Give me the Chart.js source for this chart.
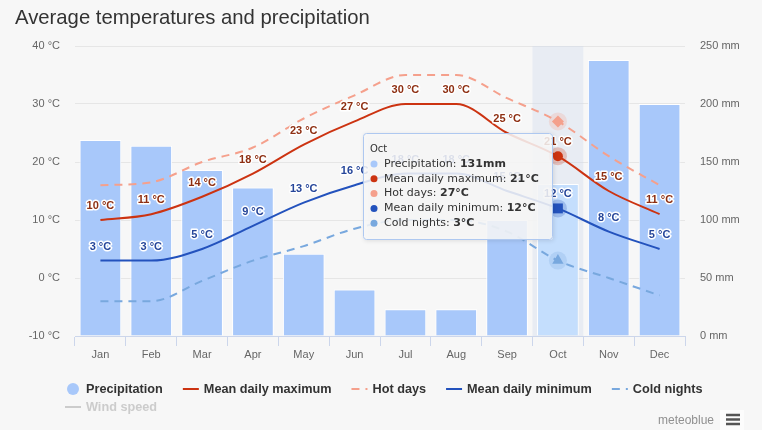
<!DOCTYPE html>
<html><head><meta charset="utf-8">
<script src="https://cdn.jsdelivr.net/npm/chart.js@4.4.1/dist/chart.umd.min.js"></script>
<style>html,body{margin:0;padding:0;background:#f7f7f7;}#wrap{width:762px;height:430px;position:relative;}canvas{display:block;}</style>
</head><body><div id="wrap"><canvas id="c" width="762" height="430"></canvas></div>
<script>
const months = ['Jan','Feb','Mar','Apr','May','Jun','Jul','Aug','Sep','Oct','Nov','Dec'];
const precipitation = [169,164,143,128,71,40,23,23,100,131,238,200];
const meanMax = [10,11,14,18,23,27,30,30,25,21,15,11];
const hotDays = [16,16.5,20,22.5,27.5,31.5,35,35,31,27,21,16];
const meanMin = [3,3,5,9,13,16,18,18,15,12,8,5];
const coldNights = [-4,-4,-0.5,3,5.5,8.5,10,10,8,3,0,-3];
const tempTicks = [-10,0,10,20,30,40];
const precipTicks = [0,50,100,150,200,250];
const hoverIndex = 9;

const C_PRE = '#a8c8fa', C_PRE_H = '#c4defd';
const C_MAX = '#cc3311', C_HOT = '#f5a08c', C_MIN = '#2352bd', C_COLD = '#78a8de';
const L_MAX = '#8e2f12', L_MIN = '#26469a';

const rad = (r)=> (c)=> c.dataIndex===hoverIndex ? r : 0;

const bgPlugin = {
  id:'bg',
  beforeDraw(chart){
    const ctx=chart.ctx; ctx.save(); ctx.fillStyle='#f7f7f7'; ctx.fillRect(0,0,chart.width,chart.height); ctx.restore();
  },
  beforeDatasetsDraw(chart){
    const ctx=chart.ctx, x=chart.scales.x, a=chart.chartArea;
    const w=(a.right-a.left)/months.length;
    const cx=x.getPixelForValue(hoverIndex);
    ctx.save(); ctx.fillStyle='rgba(204,214,235,0.35)';
    ctx.fillRect(cx-w/2,a.top,w,a.bottom-a.top); ctx.restore();
  }
};

const labelPlugin = {
  id:'labels',
  afterDatasetsDraw(chart){
    const ctx=chart.ctx;
    const halo=[[0,C_MAX,9],[1,C_HOT,9],[2,C_MIN,9],[3,C_COLD,9]];
    ctx.save();
    halo.forEach(([di,col,r])=>{
      const p=chart.getDatasetMeta(di).data[hoverIndex];
      ctx.globalAlpha=0.25; ctx.fillStyle=col; ctx.beginPath(); ctx.arc(p.x,p.y,r,0,Math.PI*2); ctx.fill();
    });
    ctx.restore();
    ctx.save();
    ctx.font='bold 11px "Liberation Sans", Arial, sans-serif';
    ctx.textAlign='center'; ctx.textBaseline='middle'; ctx.lineJoin='round';
    [[0,meanMax,L_MAX],[2,meanMin,L_MIN]].forEach(([di,vals,col])=>{
      chart.getDatasetMeta(di).data.forEach((p,i)=>{
        const t=vals[i]+' °C';
        ctx.lineWidth=3; ctx.strokeStyle='#ffffff'; ctx.strokeText(t,p.x,p.y-14);
        ctx.fillStyle=col; ctx.fillText(t,p.x,p.y-14);
      });
    });
    ctx.restore();
  },
  afterDraw(chart){
    const ctx=chart.ctx;
    ctx.save();
    ctx.fillStyle='#333333'; ctx.font='20.3px "Liberation Sans", Arial, sans-serif';
    ctx.textBaseline='middle'; ctx.textAlign='left';
    ctx.fillText('Average temperatures and precipitation',15,18);
    ctx.restore();
    const items=[
      {t:'Precipitation',type:'dot',c:C_PRE},
      {t:'Mean daily maximum',type:'line',c:C_MAX},
      {t:'Hot days',type:'dash',c:C_HOT},
      {t:'Mean daily minimum',type:'line',c:C_MIN},
      {t:'Cold nights',type:'dash',c:C_COLD},
      {t:'Wind speed',type:'line',c:'#cccccc',off:true,row:1}
    ];
    ctx.save();
    ctx.font='bold 12.7px "Liberation Sans", Arial, sans-serif';
    ctx.textBaseline='middle'; ctx.textAlign='left';
    let x=65;
    items.forEach(it=>{
      let y=389;
      if(it.row===1){ x=65; y=407; }
      if(it.type==='dot'){ ctx.fillStyle=it.c; ctx.beginPath(); ctx.arc(x+8,y,6,0,Math.PI*2); ctx.fill(); }
      else {
        ctx.strokeStyle=it.c; ctx.lineWidth=2;
        ctx.setLineDash(it.type==='dash'?[8,6]:[]);
        ctx.beginPath(); ctx.moveTo(x,y); ctx.lineTo(x+16,y); ctx.stroke(); ctx.setLineDash([]);
      }
      ctx.fillStyle=it.off?'#cccccc':'#333333';
      ctx.fillText(it.t,x+21,y);
      x+=21+ctx.measureText(it.t).width+20;
    });
    ctx.restore();
    ctx.save();
    ctx.fillStyle='#909090'; ctx.font='12px "Liberation Sans", Arial, sans-serif';
    ctx.textAlign='right'; ctx.textBaseline='middle';
    ctx.fillText('meteoblue',714,421);
    ctx.fillStyle='#fcfcfc'; ctx.fillRect(720,410,24,20);
    ctx.fillStyle='#555555';
    [415,419.5,424].forEach(yy=>ctx.fillRect(726,yy-1.25,14,2.5));
    ctx.restore();
    const bx=363,by=133,bw=190,bh=107;
    ctx.save();
    ctx.shadowColor='rgba(0,0,0,0.12)'; ctx.shadowBlur=4; ctx.shadowOffsetX=1; ctx.shadowOffsetY=1;
    ctx.fillStyle='rgba(249,249,249,0.86)';
    ctx.beginPath(); ctx.roundRect(bx,by,bw,bh,3); ctx.fill();
    ctx.shadowColor='transparent';
    ctx.strokeStyle='#aec8f0'; ctx.lineWidth=1;
    ctx.beginPath(); ctx.roundRect(bx+0.5,by+0.5,bw-1,bh-1,3); ctx.stroke();
    ctx.fillStyle='#333333'; ctx.textBaseline='middle'; ctx.textAlign='left';
    ctx.font='10px "DejaVu Sans", sans-serif';
    ctx.fillText(months[hoverIndex],370,149);
    const rows=[
      ['Precipitation: ',precipitation[hoverIndex]+'mm',C_PRE],
      ['Mean daily maximum: ',meanMax[hoverIndex]+'°C',C_MAX],
      ['Hot days: ',hotDays[hoverIndex]+'°C',C_HOT],
      ['Mean daily minimum: ',meanMin[hoverIndex]+'°C',C_MIN],
      ['Cold nights: ',coldNights[hoverIndex]+'°C',C_COLD]
    ];
    rows.forEach((r,i)=>{
      const y=164+i*14.8;
      ctx.fillStyle=r[2]; ctx.beginPath(); ctx.arc(374,y,3.5,0,Math.PI*2); ctx.fill();
      ctx.fillStyle='#333333';
      ctx.font='11px "DejaVu Sans", sans-serif';
      ctx.fillText(r[0],384,y);
      const w=ctx.measureText(r[0]).width;
      ctx.font='bold 11px "DejaVu Sans", sans-serif';
      ctx.fillText(r[1],384+w,y);
    });
    ctx.restore();
  }
};

const axisFont={family:'"Liberation Sans", Arial, sans-serif',size:11};

new Chart(document.getElementById('c'),{
  type:'bar',
  data:{labels:months,datasets:[
    {type:'line',label:'Mean daily maximum',data:meanMax,yAxisID:'y',borderColor:C_MAX,borderWidth:2,
     cubicInterpolationMode:'monotone',pointStyle:'circle',pointRadius:rad(5),pointBackgroundColor:C_MAX,pointBorderWidth:0,order:0},
    {type:'line',label:'Hot days',data:hotDays,yAxisID:'y',borderColor:C_HOT,borderWidth:2,borderDash:[8,6],
     cubicInterpolationMode:'monotone',pointStyle:'rectRot',pointRadius:rad(6),pointBackgroundColor:C_HOT,pointBorderWidth:0,order:0},
    {type:'line',label:'Mean daily minimum',data:meanMin,yAxisID:'y',borderColor:C_MIN,borderWidth:2,
     cubicInterpolationMode:'monotone',pointStyle:'rect',pointRadius:rad(7),pointBackgroundColor:C_MIN,pointBorderWidth:0,order:0},
    {type:'line',label:'Cold nights',data:coldNights,yAxisID:'y',borderColor:C_COLD,borderWidth:2,borderDash:[8,6],
     cubicInterpolationMode:'monotone',pointStyle:'triangle',pointRadius:rad(6.5),pointBackgroundColor:C_COLD,pointBorderWidth:0,order:0},
    {type:'bar',label:'Precipitation',data:precipitation,yAxisID:'y1',
     backgroundColor:months.map((m,i)=>i===hoverIndex?C_PRE_H:C_PRE),borderColor:'#ffffff',borderWidth:1,
     barPercentage:0.82,categoryPercentage:1,order:1}
  ]},
  options:{
    responsive:false,animation:false,devicePixelRatio:1,events:[],
    layout:{padding:{top:46,left:0,right:0,bottom:0}},
    plugins:{legend:{display:false},tooltip:{enabled:false},title:{display:false}},
    scales:{
      x:{offset:true,grid:{drawOnChartArea:false,drawTicks:true,tickLength:10,color:'#ccd6eb',offset:true},
         border:{color:'#ccd6eb'},ticks:{color:'#666666',font:axisFont,padding:2,maxRotation:0},
         afterFit(s){s.height=94;}},
      y:{position:'left',min:-10,max:40,
         afterBuildTicks(s){s.ticks=tempTicks.map(v=>({value:v}));},
         ticks:{callback:v=>v+' °C',color:'#666666',font:axisFont,padding:15},
         grid:{color:'#e6e6e6',drawTicks:false},border:{display:false},
         afterFit(s){s.width=75;}},
      y1:{position:'right',min:0,max:250,
         afterBuildTicks(s){s.ticks=precipTicks.map(v=>({value:v}));},
         ticks:{callback:v=>v+' mm',color:'#666666',font:axisFont,padding:15},
         grid:{drawOnChartArea:false,drawTicks:false},border:{display:false},
         afterFit(s){s.width=77;}}
    }
  },
  plugins:[bgPlugin,labelPlugin]
});
</script></body></html>
